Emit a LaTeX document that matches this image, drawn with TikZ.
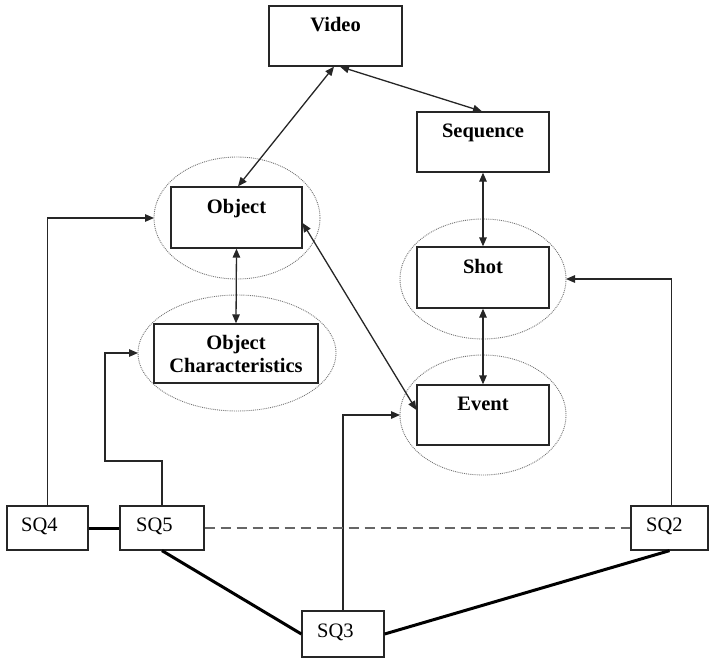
\documentclass[tikz,border=0pt]{standalone}
\usepackage{fontspec}
\setmainfont{Liberation Serif}
\usetikzlibrary{arrows.meta,calc}
\begin{document}
\begin{tikzpicture}[x=1pt,y=-1pt,
  box/.style={draw=black!85, line width=1.3pt, rectangle, inner sep=0pt},
  oval/.style={draw=black!55, densely dotted, line width=0.9pt},
  lbl/.style={anchor=base, inner sep=0pt, font=\fontsize{20.5}{24}\selectfont\bfseries},
  sqlbl/.style={anchor=base west, inner sep=0pt, font=\fontsize{20.5}{24}\selectfont},
  arr/.style={draw=black!85, line width=1.3pt, -{Triangle[length=9pt,width=7.5pt]}},
  dbl/.style={draw=black!85, line width=1.3pt, {Triangle[length=9pt,width=7.5pt]}-{Triangle[length=9pt,width=7.5pt]}},
  thick link/.style={draw=black, line width=3pt},
  dash link/.style={draw=black!60, line width=1.5pt, dash pattern=on 10pt off 6pt}
]
\useasboundingbox (0,0) rectangle (709,658);

% ellipses
\draw[oval] (237,218) ellipse [x radius=83, y radius=61];
\coordinate (objEw) at (154,218);
\draw[oval] (237,353) ellipse [x radius=99, y radius=58];
\coordinate (ocEw) at (138,353);
\draw[oval] (483,279) ellipse [x radius=83, y radius=60];
\coordinate (shEe) at (566,279);
\draw[oval] (483,415) ellipse [x radius=83, y radius=60];
\coordinate (evEw) at (400,415);

% boxes
\node[box, minimum width=133pt, minimum height=60pt] (video) at (335.5,36) {};
\node[box, minimum width=132pt, minimum height=60pt] (seq) at (483,142) {};
\node[box, minimum width=131pt, minimum height=61pt] (object) at (236.5,217.5) {};
\node[box, minimum width=164pt, minimum height=59pt] (objchar) at (236,353.5) {};
\node[box, minimum width=132pt, minimum height=61pt] (shot) at (483,277.5) {};
\node[box, minimum width=132pt, minimum height=60pt] (event) at (483,415) {};
\node[box, minimum width=81pt, minimum height=44pt] (sq4) at (47.5,528) {};
\node[box, minimum width=84pt, minimum height=44pt] (sq5) at (162,528) {};
\node[box, minimum width=82pt, minimum height=46pt] (sq3) at (343,634) {};
\node[box, minimum width=77pt, minimum height=44pt] (sq2) at (669.5,528) {};

% labels
\node[lbl] (videoT) at (335.5,31.5) {Video};
\node[lbl] (seqT) at (483,137) {Sequence};
\node[lbl] (objectT) at (236.5,213) {Object};
\node[lbl] (objcharT1) at (236,349) {Object};
\node[lbl] (objcharT2) at (236,372) {Characteristics};
\node[lbl] (shotT) at (483,273) {Shot};
\node[lbl] (eventT) at (483,410) {Event};
\node[sqlbl] (sq4T) at (21,531) {SQ4};
\node[sqlbl] (sq5T) at (136,531) {SQ5};
\node[sqlbl] (sq3T) at (317,637) {SQ3};
\node[sqlbl] (sq2T) at (646,531) {SQ2};

% double arrows
\draw[dbl] ([xshift=-1.5pt]video.south) -- ([xshift=1.5pt]object.north);
\draw[dbl] ([xshift=4.5pt]video.south) -- ([xshift=-1pt]seq.north);
\draw[dbl] (seq.south) -- (shot.north);
\draw[dbl] (object.south) -- (objchar.north);
\draw[dbl] (shot.south) -- (event.north);
\draw[dbl] ([yshift=-5.5pt]object.east) -- ([yshift=5pt]event.west);

% query links
\coordinate (k5) at (105,461);
\draw[arr] (sq4.north) |- (objEw);
\draw[arr] (sq5.north) |- (k5) |- (ocEw);
\draw[arr] (sq3.north) |- (evEw);
\draw[arr] ([xshift=2pt]sq2.north) |- (shEe);

% bottom links
\draw[thick link] (sq4.east) -- (sq5.west);
\draw[dash link] (sq5.east) -- (sq2.west);
\draw[thick link] (sq5.south) -- (sq3.west);
\draw[thick link] (sq3.east) -- (sq2.south);
\end{tikzpicture}
\end{document}
